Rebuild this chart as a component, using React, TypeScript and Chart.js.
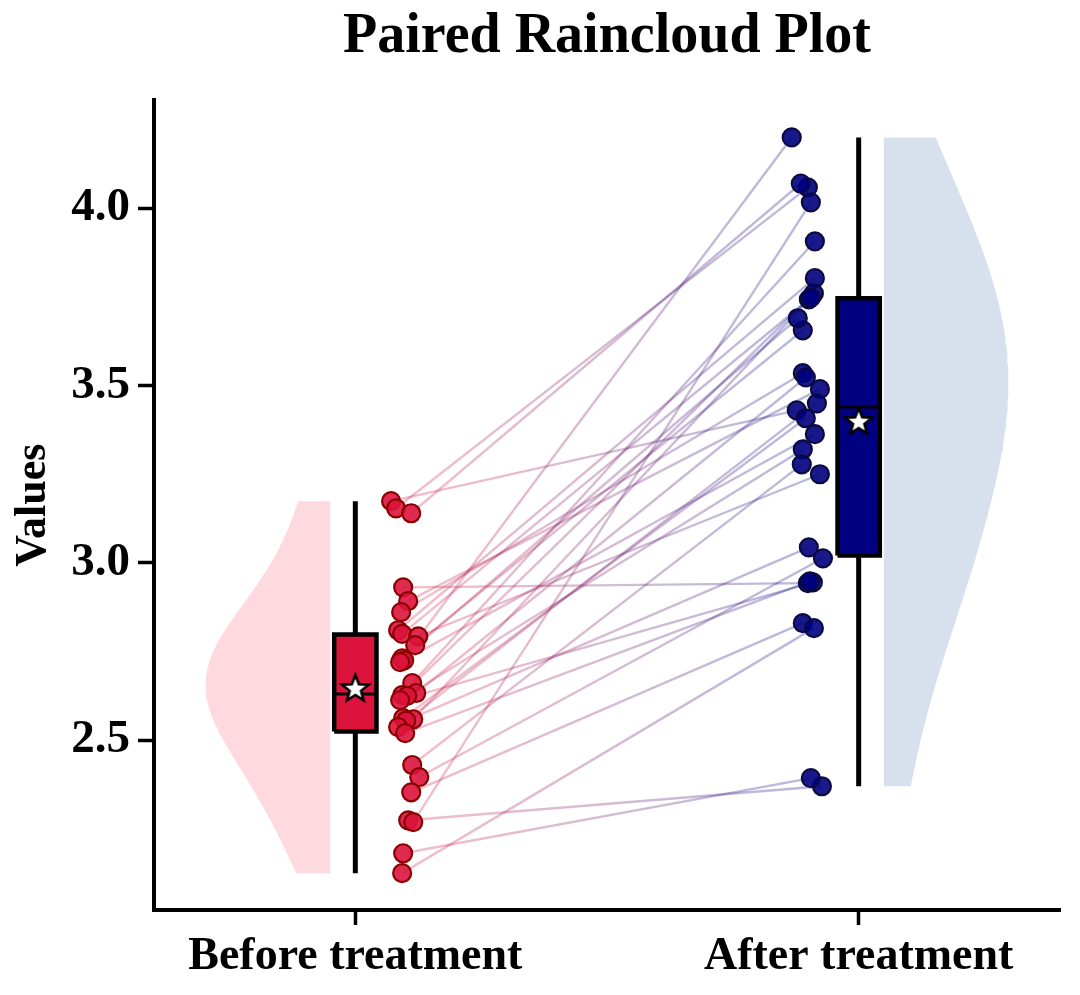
import React, { useEffect, useRef } from "react";
import { Chart, registerables } from "chart.js";

Chart.register(...registerables);

// ---------------- data ----------------
const CATEGORIES = ["Before treatment", "After treatment"];
const Y_TICKS = [2.5, 3.0, 3.5, 4.0];

// paired values (same index = same subject)
const BEFORE = [
  3.174, 3.154, 3.14, 2.931, 2.892, 2.861, 2.81, 2.8, 2.793, 2.768,
  2.731, 2.725, 2.72, 2.661, 2.633, 2.627, 2.625, 2.613, 2.562, 2.559,
  2.555, 2.537, 2.52, 2.43, 2.396, 2.353, 2.274, 2.269, 2.181, 2.125,
];
const AFTER = [
  3.43, 4.059, 4.07, 2.943, 3.49, 3.535, 3.803, 3.743, 3.25, 3.656,
  3.69, 3.363, 4.2, 3.907, 3.523, 3.76, 3.32, 2.945, 3.408, 3.748,
  3.044, 3.45, 2.948, 3.278, 3.013, 2.83, 2.37, 4.017, 2.393, 2.816,
];
// horizontal jitter (category units)
const BEFORE_JITTER = [
  0.071, 0.081, 0.111, 0.095, 0.105, 0.091, 0.085, 0.093, 0.125, 0.119,
  0.093, 0.097, 0.089, 0.113, 0.121, 0.093, 0.103, 0.089, 0.095, 0.115,
  0.101, 0.085, 0.099, 0.113, 0.127, 0.111, 0.105, 0.115, 0.095, 0.093,
];
const AFTER_JITTER = [
  -0.123, -0.101, -0.115, -0.101, -0.077, -0.111, -0.087, -0.099, -0.077, -0.111,
  -0.121, -0.087, -0.133, -0.087, -0.105, -0.089, -0.111, -0.091, -0.105, -0.095,
  -0.099, -0.083, -0.097, -0.113, -0.071, -0.111, -0.073, -0.095, -0.095, -0.089,
];

// ---------------- helpers ----------------
function quantile(sorted: number[], p: number) {
  const idx = (sorted.length - 1) * p;
  const lo = Math.floor(idx);
  const hi = Math.ceil(idx);
  return sorted[lo] + (sorted[hi] - sorted[lo]) * (idx - lo);
}

function boxStats(values: number[]) {
  const s = [...values].sort((a, b) => a - b);
  const q1 = quantile(s, 0.25);
  const med = quantile(s, 0.5);
  const q3 = quantile(s, 0.75);
  const iqr = q3 - q1;
  const lo = s.find((v) => v >= q1 - 1.5 * iqr) as number;
  const hi = [...s].reverse().find((v) => v <= q3 + 1.5 * iqr) as number;
  const mean = s.reduce((a, b) => a + b, 0) / s.length;
  return { q1, med, q3, lo, hi, mean, min: s[0], max: s[s.length - 1] };
}

function kde(values: number[], bwScale: number, steps: number) {
  const n = values.length;
  const mean = values.reduce((a, b) => a + b, 0) / n;
  const sd = Math.sqrt(values.reduce((a, v) => a + (v - mean) ** 2, 0) / (n - 1));
  const bw = sd * Math.pow(n, -0.2) * bwScale;
  const mn = Math.min(...values);
  const mx = Math.max(...values);
  const ys: number[] = [];
  const ds: number[] = [];
  for (let i = 0; i <= steps; i++) {
    const y = mn + ((mx - mn) * i) / steps;
    let d = 0;
    for (const v of values) d += Math.exp(-0.5 * ((y - v) / bw) ** 2);
    ys.push(y);
    ds.push(d);
  }
  const dmax = Math.max(...ds);
  return ys.map((y, i) => ({ y, w: ds[i] / dmax }));
}

function violinPolygon(values: number[], edge: number, dir: number, maxW: number) {
  const prof = kde(values, 1.3, 120);
  const pts: { x: number; y: number }[] = [];
  pts.push({ x: edge, y: prof[0].y });
  for (const p of prof) pts.push({ x: edge + dir * p.w * maxW, y: p.y });
  pts.push({ x: edge, y: prof[prof.length - 1].y });
  pts.push({ x: edge, y: prof[0].y });
  return pts;
}

function makeStar(): HTMLCanvasElement {
  const c = document.createElement("canvas");
  const size = 34;
  c.width = size;
  c.height = size;
  const g = c.getContext("2d") as CanvasRenderingContext2D;
  const cx = size / 2;
  const cy = size / 2 + 1;
  const R = 14;
  const r = 6;
  g.beginPath();
  for (let i = 0; i < 10; i++) {
    const rad = i % 2 === 0 ? R : r;
    const a = -Math.PI / 2 + (i * Math.PI) / 5;
    const x = cx + rad * Math.cos(a);
    const y = cy + rad * Math.sin(a);
    if (i === 0) g.moveTo(x, y);
    else g.lineTo(x, y);
  }
  g.closePath();
  g.fillStyle = "#ffffff";
  g.fill();
  g.lineWidth = 2.6;
  g.lineJoin = "miter";
  g.strokeStyle = "#000000";
  g.stroke();
  return c;
}

const FONT_FAMILY = "'Liberation Serif', 'Times New Roman', 'DejaVu Serif', serif";

export default function App() {
  const ref = useRef<HTMLCanvasElement | null>(null);

  useEffect(() => {
    document.body.style.margin = "0";
    const canvas = ref.current;
    if (!canvas) return;

    const groups = [BEFORE, AFTER];
    const stats = groups.map(boxStats);
    const star = makeStar();
    const halfBox = 0.042;

    const datasets: any[] = [];

    // violins
    datasets.push({
      data: violinPolygon(BEFORE, -0.05, -1, 0.2475),
      fill: "shape",
      backgroundColor: "rgba(255,192,203,0.6)",
      borderWidth: 0,
      pointRadius: 0,
      order: 10,
    });
    datasets.push({
      data: violinPolygon(AFTER, 1.05, 1, 0.2475),
      fill: "shape",
      backgroundColor: "rgba(176,196,222,0.5)",
      borderWidth: 0,
      pointRadius: 0,
      order: 10,
    });

    // pair lines
    const pairGradient = (ctx: any) => {
      const chart = ctx.chart;
      const xs = chart.scales && chart.scales.x;
      if (!xs || !chart.chartArea) return "rgba(120,60,120,0.28)";
      const g = chart.ctx.createLinearGradient(
        xs.getPixelForValue(0.1), 0, xs.getPixelForValue(0.88), 0
      );
      g.addColorStop(0, "rgba(220,20,60,0.28)");
      g.addColorStop(1, "rgba(0,0,128,0.28)");
      return g;
    };
    BEFORE.forEach((b, i) => {
      datasets.push({
        data: [
          { x: 0 + BEFORE_JITTER[i], y: b },
          { x: 1 + AFTER_JITTER[i], y: AFTER[i] },
        ],
        borderColor: pairGradient,
        borderWidth: 2.4,
        pointRadius: 0,
        fill: false,
        order: 8,
      });
    });

    // boxes, whiskers, medians, means
    const boxColors = ["#DC143C", "#000080"];
    stats.forEach((s, k) => {
      datasets.push({
        data: [
          { x: k, y: s.lo },
          { x: k, y: s.hi },
        ],
        borderColor: "#000",
        borderWidth: 5,
        pointRadius: 0,
        fill: false,
        order: 6,
      });
      datasets.push({
        data: [
          { x: k - halfBox, y: s.q1 },
          { x: k + halfBox, y: s.q1 },
          { x: k + halfBox, y: s.q3 },
          { x: k - halfBox, y: s.q3 },
          { x: k - halfBox, y: s.q1 },
        ],
        fill: "shape",
        backgroundColor: boxColors[k],
        borderColor: "#000",
        borderWidth: 4.5,
        borderJoinStyle: "miter",
        pointRadius: 0,
        order: 5,
      });
      datasets.push({
        data: [
          { x: k - halfBox, y: s.med },
          { x: k + halfBox, y: s.med },
        ],
        borderColor: "#000",
        borderWidth: 3,
        pointRadius: 0,
        fill: false,
        order: 4,
      });
    });

    // raw points
    datasets.push({
      data: BEFORE.map((v, i) => ({ x: 0 + BEFORE_JITTER[i], y: v })),
      showLine: false,
      pointRadius: 9,
      pointBackgroundColor: "rgba(220,20,60,0.9)",
      pointBorderColor: "#8B0000",
      pointBorderWidth: 2.2,
      order: 2,
    });
    datasets.push({
      data: AFTER.map((v, i) => ({ x: 1 + AFTER_JITTER[i], y: v })),
      showLine: false,
      pointRadius: 9,
      pointBackgroundColor: "rgba(0,0,128,0.9)",
      pointBorderColor: "#0a0a40",
      pointBorderWidth: 2.2,
      order: 2,
    });

    // mean stars
    datasets.push({
      data: stats.map((s, k) => ({ x: k, y: s.mean })),
      showLine: false,
      pointStyle: star,
      pointRadius: 14,
      order: 1,
    });

    const chart = new Chart(canvas, {
      type: "line",
      data: { datasets },
      options: {
        animation: false,
        responsive: false,
        events: [],
        layout: { padding: { right: 20, left: 0, top: 0, bottom: 0 } },
        plugins: {
          legend: { display: false },
          tooltip: { enabled: false },
          title: {
            display: true,
            text: "Paired Raincloud Plot",
            fullSize: false,
            color: "#000",
            font: { family: FONT_FAMILY, size: 56, weight: "bold", lineHeight: 1.2 },
            padding: { top: 4, bottom: 29 },
          },
        },
        scales: {
          x: {
            type: "linear",
            min: -0.4,
            max: 1.4,
            afterFit: (s: any) => {
              s.height = 85;
            },
            afterBuildTicks: (s: any) => {
              s.ticks = CATEGORIES.map((_, i) => ({ value: i }));
            },
            ticks: {
              color: "#000",
              padding: 5,
              autoSkip: false,
              maxRotation: 0,
              font: { family: FONT_FAMILY, size: 46, weight: "bold" },
              callback: (v: any) => CATEGORIES[Math.round(Number(v))] ?? "",
            },
            grid: {
              display: true,
              drawOnChartArea: false,
              drawTicks: true,
              tickLength: 15,
              tickWidth: 3.5,
              tickColor: "#000",
            },
            border: { display: true, color: "#000", width: 4 },
          },
          y: {
            type: "linear",
            min: 2.021,
            max: 4.305,
            afterFit: (s: any) => {
              s.width = 154;
            },
            afterBuildTicks: (s: any) => {
              s.ticks = Y_TICKS.map((v) => ({ value: v }));
            },
            ticks: {
              color: "#000",
              padding: 8,
              font: { family: FONT_FAMILY, size: 47, weight: "bold" },
              callback: (v: any) => Number(v).toFixed(1),
            },
            grid: {
              display: true,
              drawOnChartArea: false,
              drawTicks: true,
              tickLength: 16,
              tickWidth: 3.5,
              tickColor: "#000",
            },
            border: { display: true, color: "#000", width: 4 },
            title: {
              display: true,
              text: "Values",
              color: "#000",
              font: { family: FONT_FAMILY, size: 44, weight: "bold", lineHeight: 1.2 },
              padding: { top: 7, bottom: 0 },
            },
          },
        },
      },
    });

    return () => chart.destroy();
  }, []);

  return (
    <div style={{ width: 1080, height: 995 }}>
      <canvas ref={ref} width={1080} height={995} style={{ display: "block" }} />
    </div>
  );
}
